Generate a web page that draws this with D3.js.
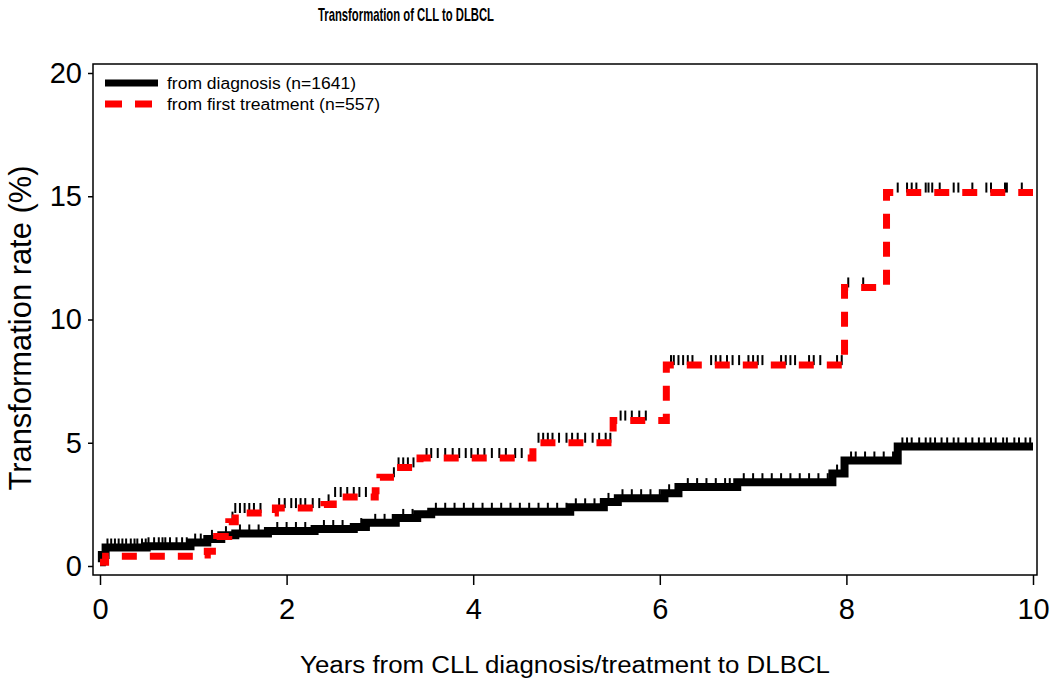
<!DOCTYPE html>
<html><head><meta charset="utf-8">
<script src="https://cdn.jsdelivr.net/npm/d3@7"></script>
<style>body{margin:0;background:#fff;} svg{display:block;} text{font-family:"Liberation Sans",Arial,sans-serif;}</style>
</head><body>
<svg id="c" width="1050" height="685"></svg>
<script>
// ---- data ----
const title = "Transformation of CLL to DLBCL";
const xTitle = "Years from CLL diagnosis/treatment to DLBCL";
const yTitle = "Transformation rate (%)";
const xTicks = [0, 2, 4, 6, 8, 10];
const yTicks = [0, 5, 10, 15, 20];
const seriesNames = ["from diagnosis (n=1641)", "from first treatment (n=557)"];

// step times (years) and cumulative transformation rate (%) after each step
const diagTimes  = [0, 0.02, 0.06, 0.5, 0.97, 1.15, 1.3, 1.45, 1.8, 2.3, 2.72, 2.85, 3.17, 3.4, 3.55, 5.04, 5.4, 5.55, 6.05, 6.2, 6.83, 7.85, 7.98, 8.55, 10];
const diagRates  = [0.15, 0.45, 0.75, 0.8, 0.95, 1.1, 1.25, 1.32, 1.42, 1.5, 1.58, 1.75, 1.95, 2.1, 2.2, 2.38, 2.6, 2.75, 2.95, 3.2, 3.4, 3.75, 4.28, 4.85, 4.85];
const treatTimes = [0, 0.06, 1.0, 1.15, 1.25, 1.38, 1.45, 1.88, 2.4, 2.5, 2.95, 3.0, 3.18, 3.43, 4.64, 5.5, 6.07, 7.98, 8.43, 10];
const treatRates = [0.15, 0.4, 0.45, 0.6, 1.2, 1.8, 2.15, 2.35, 2.5, 2.8, 3.05, 3.6, 4.0, 4.38, 5.0, 5.9, 8.15, 11.3, 15.15, 15.15];

// censoring times (years)
const diagCensor = [0.08,0.12,0.16,0.2,0.24,0.28,0.33,0.37,0.4,0.45,0.49,0.52,0.58,0.63,0.67,0.7,0.75,0.82,0.88,0.93,1.02,1.08,1.2,1.35,1.5,1.6,1.7,1.9,2.0,2.1,2.2,2.4,2.5,2.6,2.8,2.95,3.05,3.25,3.35,3.6,3.7,3.8,3.9,4.0,4.1,4.2,4.3,4.4,4.5,4.6,4.7,4.8,4.9,5.0,5.1,5.2,5.3,5.45,5.6,5.7,5.8,5.9,6.0,6.1,6.3,6.4,6.5,6.6,6.7,6.75,6.9,7.0,7.1,7.2,7.3,7.4,7.5,7.6,7.7,7.8,7.9,8.05,8.1,8.2,8.3,8.4,8.5,8.6,8.65,8.7,8.78,8.85,8.9,8.95,9.02,9.08,9.15,9.2,9.28,9.35,9.42,9.48,9.55,9.6,9.68,9.72,9.8,9.85,9.92,9.97];
const treatCensor = [1.42,1.45,1.5,1.55,1.6,1.65,1.72,1.92,1.98,2.05,2.1,2.15,2.2,2.28,2.35,2.45,2.52,2.58,2.65,2.72,2.78,2.85,3.15,3.2,3.25,3.3,3.36,3.5,3.55,3.62,3.7,3.78,3.85,3.92,3.98,4.05,4.12,4.2,4.28,4.35,4.45,4.52,4.7,4.75,4.8,4.85,4.92,5.0,5.06,5.12,5.2,5.28,5.35,5.42,5.47,5.58,5.63,5.7,5.78,5.85,6.12,6.15,6.2,6.25,6.3,6.35,6.55,6.6,6.65,6.72,6.78,6.85,6.95,7.0,7.05,7.1,7.3,7.35,7.4,7.45,7.6,7.65,7.72,7.9,7.95,8.02,8.18,8.55,8.65,8.7,8.75,8.85,8.88,8.92,9.0,9.15,9.2,9.35,9.5,9.55,9.7,9.72,9.88];

// ---- chart ----
const svg = d3.select("#c");
const frame = {l: 93, r: 1037, t: 64, b: 575};
const x = d3.scaleLinear().domain([0, 10]).range([100, 1033]);
const y = d3.scaleLinear().domain([0, 20]).range([566, 73]);

svg.append("text").attr("x", 318).attr("y", 21).attr("font-size", 19).attr("font-weight", "bold")
  .attr("textLength", 176).attr("lengthAdjust", "spacingAndGlyphs").text(title);

// axes
const yAxis = svg.append("g").attr("transform", `translate(${frame.l},0)`)
  .call(d3.axisLeft(y).tickValues(yTicks).tickSize(5).tickPadding(6));
const xAxis = svg.append("g").attr("transform", `translate(0,${frame.b})`)
  .call(d3.axisBottom(x).tickValues(xTicks).tickSize(10).tickPadding(13));
[yAxis, xAxis].forEach(g => {
  g.select(".domain").remove();
  g.selectAll("line").attr("stroke", "#000").attr("stroke-width", 1.5);
  g.selectAll("text").attr("font-size", 29).attr("fill", "#000").attr("font-family", "Liberation Sans, Arial, sans-serif");
});

svg.append("text").attr("transform", "translate(31,328) rotate(-90)").attr("text-anchor", "middle")
  .attr("font-size", 32).attr("textLength", 325).attr("lengthAdjust", "spacingAndGlyphs").text(yTitle);
svg.append("text").attr("x", 565).attr("y", 673).attr("text-anchor", "middle")
  .attr("font-size", 23).attr("textLength", 530).attr("lengthAdjust", "spacingAndGlyphs").text(xTitle);

// step lines
const line = d3.line().x(d => x(d[0])).y(d => y(d[1])).curve(d3.curveStepAfter);
const diag = diagTimes.map((t, i) => [t, diagRates[i]]);
const treat = treatTimes.map((t, i) => [t, treatRates[i]]);
const stepAt = (times, rates, t) => rates[Math.max(0, d3.bisectRight(times, t) - 1)];

const plot = svg.append("g");
plot.append("path").attr("d", line(diag)).attr("fill", "none").attr("stroke", "#000").attr("stroke-width", 8);
plot.selectAll("line.dc").data(diagCensor).join("line").attr("class", "dc")
  .attr("x1", d => x(d)).attr("x2", d => x(d))
  .attr("y1", d => y(stepAt(diagTimes, diagRates, d))).attr("y2", d => y(stepAt(diagTimes, diagRates, d)) - 9)
  .attr("stroke", "#000").attr("stroke-width", 2);
plot.selectAll("line.tc").data(treatCensor).join("line").attr("class", "tc")
  .attr("x1", d => x(d)).attr("x2", d => x(d))
  .attr("y1", d => y(stepAt(treatTimes, treatRates, d))).attr("y2", d => y(stepAt(treatTimes, treatRates, d)) - 10)
  .attr("stroke", "#000").attr("stroke-width", 2);
plot.append("path").attr("d", line(treat)).attr("fill", "none").attr("stroke", "#ff0000")
  .attr("stroke-width", 7).attr("stroke-dasharray", "15,13");

// frame
svg.append("rect").attr("x", frame.l).attr("y", frame.t).attr("width", frame.r - frame.l).attr("height", frame.b - frame.t)
  .attr("fill", "none").attr("stroke", "#000").attr("stroke-width", 1.5);

// legend
const leg = svg.append("g");
leg.append("line").attr("x1", 105).attr("x2", 158).attr("y1", 83).attr("y2", 83).attr("stroke", "#000").attr("stroke-width", 7);
leg.append("line").attr("x1", 105).attr("x2", 158).attr("y1", 104).attr("y2", 104).attr("stroke", "#ff0000").attr("stroke-width", 7).attr("stroke-dasharray", "17,13");
leg.append("text").attr("x", 167).attr("y", 89).attr("font-size", 16).attr("textLength", 189).attr("lengthAdjust", "spacingAndGlyphs").text(seriesNames[0]);
leg.append("text").attr("x", 167).attr("y", 110).attr("font-size", 16).attr("textLength", 213).attr("lengthAdjust", "spacingAndGlyphs").text(seriesNames[1]);
</script>
</body></html>
